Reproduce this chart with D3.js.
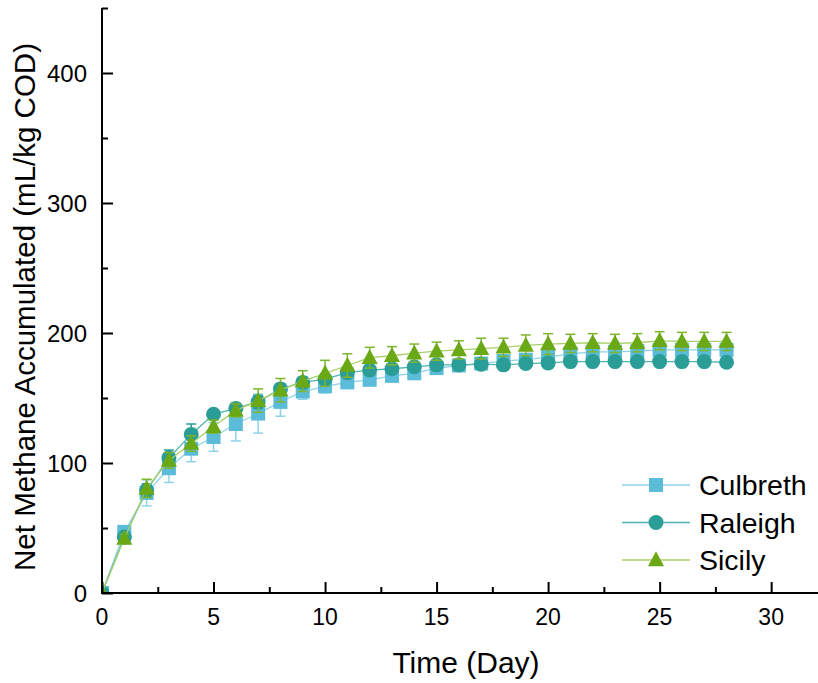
<!DOCTYPE html>
<html>
<head>
<meta charset="utf-8">
<script src="https://cdn.jsdelivr.net/npm/d3@7"></script>
<style>
  html, body { margin: 0; padding: 0; background: #fff; }
  svg { display: block; font-family: "Liberation Sans", Arial, sans-serif; }
</style>
</head>
<body>
<svg id="chart" width="818" height="683"></svg>
<script>
const days = d3.range(0, 29);
const culbreth = [0,47,77,96,111,120,130,138,147,155,159,162,164,167,169,173,175,176.5,178.5,179.5,181.5,184,185.5,185.5,186,187,187,187,187];
const culbrethErr = [0,4,10,11,10,11,13,15,11,6,5,4,4,4,4,4,4,4,4,4,4,4,4,4,4,4,4,4,4];
const raleigh = [0,43,79,104,122,137.5,142,147,157,162,164.5,169.5,171.5,172.5,174,175.5,175.5,176,175.5,176.5,177,178,178,178,178,178,178,178,177.5];
const raleighErr = [0,3,5,6,8,3,4,5,4,4,4,3,3,3,3,3,3,3,3,3,3,3,3,3,3,3,3,3,3];
const sicily = [0,42,80.5,102,115,128,140.5,148,156,163,169,175,181,182.5,184.5,186,187,188,189,190.5,191.5,192,192.5,192,192.5,194,193.5,193.5,193.5];
const sicilyErr = [0,3,7,6,6,5,5,9,9,8,10,9,8,7,7,7,7,8,7,8,8,7,7,7,7,7,7,7,7];
const seriesNames = ["Culbreth", "Raleigh", "Sicily"];
const xTicks = [0,5,10,15,20,25,30];
const yTicks = [0,100,200,300,400];

const series = [
  {name: seriesNames[0], values: culbreth, err: culbrethErr, marker: "square", color: "#5bbcd9", line: "#8fd2e8", errColor: "#8fd2e8"},
  {name: seriesNames[1], values: raleigh, err: raleighErr, marker: "circle", color: "#2a9d96", line: "#4fb3b0", errColor: "#2a9d96"},
  {name: seriesNames[2], values: sicily, err: sicilyErr, marker: "triangle", color: "#6aa815", line: "#a8cf6a", errColor: "#7fb52e"}
];

const svg = d3.select("#chart");
const L = 102, R = 818, T = 8, B = 593;
const x = d3.scaleLinear().domain([0, 32.1]).range([L, R]);
const y = d3.scaleLinear().domain([0, 450]).range([B, T]);

svg.append("defs").append("clipPath").attr("id", "plotclip")
  .append("rect").attr("x", L).attr("y", T).attr("width", R - L).attr("height", B - T);

// titles
svg.append("text").attr("x", 466).attr("y", 673).attr("text-anchor", "middle")
  .attr("font-size", 30).attr("fill", "#000").text("Time (Day)");
svg.append("text").attr("transform", "translate(35,307) rotate(-90)").attr("text-anchor", "middle")
  .attr("font-size", 29.5).attr("fill", "#000").text("Net Methane Accumulated (mL/kg COD)");

function drawMarker(g, type, cx, cy, color, size) {
  if (type === "square") {
    g.append("rect").attr("x", cx - size/2).attr("y", cy - size/2).attr("width", size).attr("height", size).attr("fill", color);
  } else if (type === "circle") {
    g.append("circle").attr("cx", cx).attr("cy", cy).attr("r", size/2 + 0.5).attr("fill", color);
  } else {
    const h = size * 1.0, w = size * 1.15;
    g.append("path").attr("d", `M${cx},${cy - h*0.62}L${cx + w/2},${cy + h*0.45}L${cx - w/2},${cy + h*0.45}Z`).attr("fill", color);
  }
}

const line = d3.line().x((d, i) => x(days[i])).y(d => y(d));
const plot = svg.append("g").attr("clip-path", "url(#plotclip)");
series.forEach(s => {
  const g = plot.append("g");
  g.append("path").datum(s.values).attr("d", line).attr("fill", "none")
    .attr("stroke", s.line).attr("stroke-width", 1.3);
  s.values.forEach((v, i) => {
    const e = s.err[i];
    if (e > 0) {
      const cx = x(days[i]);
      g.append("line").attr("x1", cx).attr("x2", cx).attr("y1", y(v - e)).attr("y2", y(v + e))
        .attr("stroke", s.errColor).attr("stroke-width", 1.5);
      [v - e, v + e].forEach(ev => {
        g.append("line").attr("x1", cx - 5).attr("x2", cx + 5).attr("y1", y(ev)).attr("y2", y(ev))
          .attr("stroke", s.errColor).attr("stroke-width", 1.5);
      });
    }
  });
  s.values.forEach((v, i) => drawMarker(g, s.marker, x(days[i]), y(v), s.color, 14));
});

// axes
const xAxisG = svg.append("g").attr("transform", `translate(0,${B})`);
xAxisG.call(d3.axisBottom(x).tickValues(d3.range(0, 32.5, 2.5)).tickSize(0).tickFormat(""));
xAxisG.select(".domain").remove();
xAxisG.selectAll(".tick line").remove();
xAxisG.selectAll(".tick").append("line")
  .attr("y1", 0).attr("y2", d => (d % 5 === 0) ? -11 : -6)
  .attr("stroke", "#000").attr("stroke-width", 2);
xTicks.forEach(t => {
  svg.append("text").attr("x", x(t)).attr("y", 625)
    .attr("text-anchor", "middle").attr("font-size", 23).attr("fill", "#000").text(t);
});

const yAxisG = svg.append("g").attr("transform", `translate(${L},0)`);
yAxisG.call(d3.axisLeft(y).tickValues(d3.range(0, 451, 50)).tickSize(0).tickFormat(""));
yAxisG.select(".domain").remove();
yAxisG.selectAll(".tick line").remove();
yAxisG.selectAll(".tick").append("line")
  .attr("x1", 0).attr("x2", d => (d % 100 === 0) ? 11 : 6)
  .attr("stroke", "#000").attr("stroke-width", 2);
yTicks.forEach(t => {
  svg.append("text").attr("x", 87).attr("y", y(t)).attr("dy", "0.36em")
    .attr("text-anchor", "end").attr("font-size", 24).attr("fill", "#000").text(t);
});

svg.append("line").attr("x1", L).attr("x2", R).attr("y1", B).attr("y2", B)
  .attr("stroke", "#000").attr("stroke-width", 2);
svg.append("line").attr("x1", L).attr("x2", L).attr("y1", T).attr("y2", B + 1)
  .attr("stroke", "#000").attr("stroke-width", 2);

// legend
series.forEach((s, i) => {
  const ly = 485 + i * 37.5;
  svg.append("line").attr("x1", 622).attr("x2", 690).attr("y1", ly).attr("y2", ly)
    .attr("stroke", s.line).attr("stroke-width", 1.3);
  drawMarker(svg, s.marker, 656, ly, s.color, 14);
  svg.append("text").attr("x", 699).attr("y", ly).attr("dy", "0.36em")
    .attr("font-size", 28.5).attr("fill", "#000").text(s.name);
});
</script>
</body>
</html>
